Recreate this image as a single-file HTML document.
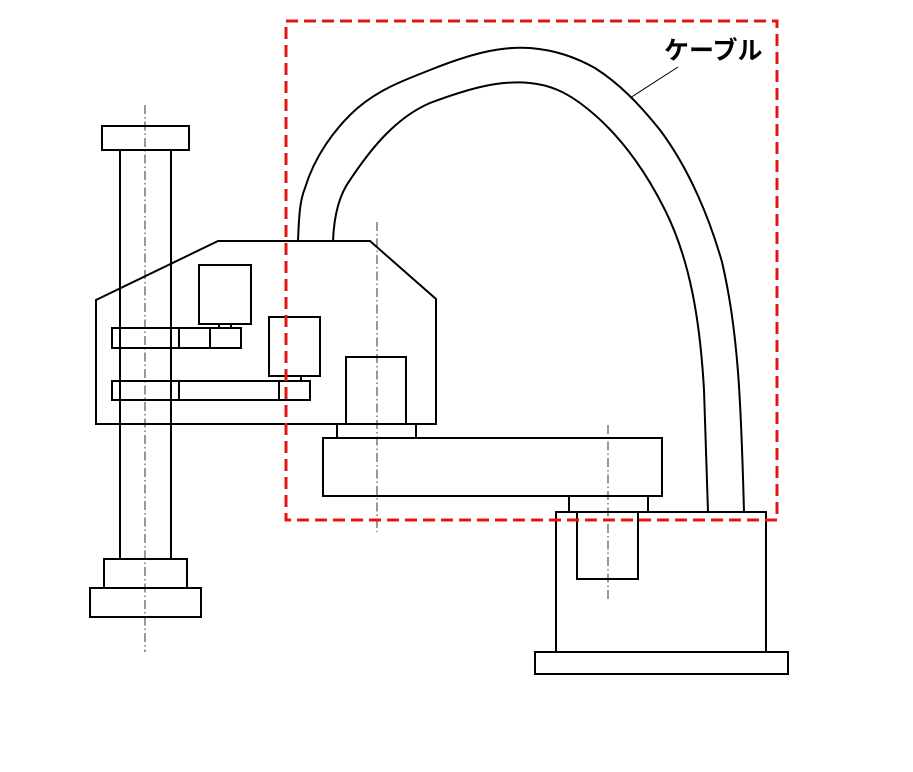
<!DOCTYPE html>
<html><head><meta charset="utf-8"><style>html,body{margin:0;padding:0;background:#fff}svg{display:block}</style></head>
<body>
<svg width="913" height="772" viewBox="0 0 913 772" xmlns="http://www.w3.org/2000/svg">
<g fill="none" stroke="#000" stroke-width="2">
<!-- column -->
<rect x="102" y="126" width="87" height="24"/>
<rect x="104" y="559" width="83" height="29"/>
<rect x="90" y="588" width="111" height="29"/>
<!-- head -->
<polygon points="96,300 218,241 370,241 436,299 436,424 96,424" fill="#fff"/>
<line x1="120" y1="150" x2="120" y2="559"/>
<line x1="171" y1="150" x2="171" y2="559"/>
<rect x="199" y="265" width="52" height="59" fill="#fff"/>
<rect x="219" y="324" width="12" height="4"/>
<rect x="112" y="328" width="129" height="20"/>
<line x1="179" y1="328" x2="179" y2="348"/>
<line x1="210" y1="328" x2="210" y2="348"/>
<rect x="269" y="317" width="51" height="59" fill="#fff"/>
<line x1="301" y1="376" x2="301" y2="381"/>
<rect x="112" y="381" width="198" height="19"/>
<line x1="179" y1="381" x2="179" y2="400"/>
<line x1="279" y1="381" x2="279" y2="400"/>
<rect x="346" y="357" width="60" height="67" fill="#fff"/>
<rect x="337" y="424" width="79" height="14"/>
<rect x="323" y="438" width="339" height="58"/>
<rect x="569" y="496" width="79" height="16"/>
<rect x="556" y="512" width="210" height="140"/>
<rect x="577" y="512" width="61" height="67"/>
<rect x="535" y="652" width="253" height="22"/>
<!-- cable -->
<path d="M298,241 C299,215 300,200 305,188 C315,155 335,130 350,115 C375,90 405,80 430,70 C470,54 500,46 530,48 C555,50 575,57 595,68 C620,84 640,105 660,130 C690,170 710,220 722,262 C738,330 741,400 744,512"/>
<path d="M333,241 C334,215 339,195 350,180 C370,150 395,118 430,103 C470,88 500,80 530,83 C550,85 565,92 580,103 C610,125 640,160 665,210 C690,260 700,320 704,390 C706,440 707,480 708,512"/>
</g>
<!-- center lines -->
<g stroke="#000" stroke-width="0.8" stroke-dasharray="9,3,1.5,3">
<line x1="145" y1="105" x2="145" y2="652"/>
<line x1="377" y1="222" x2="377" y2="532"/>
<line x1="608" y1="425" x2="608" y2="600"/>
</g>
<!-- leader -->
<line x1="678" y1="67" x2="630" y2="98" stroke="#000" stroke-width="1"/>
<!-- red box -->
<rect x="286" y="21" width="491" height="499" fill="none" stroke="#e31414" stroke-width="3" stroke-dasharray="12,6"/>
<text x="664" y="59" font-family="'Liberation Sans','Noto Sans CJK JP',sans-serif" font-size="25" font-weight="bold" fill="#000">ケーブル</text>
</svg>
</body></html>
